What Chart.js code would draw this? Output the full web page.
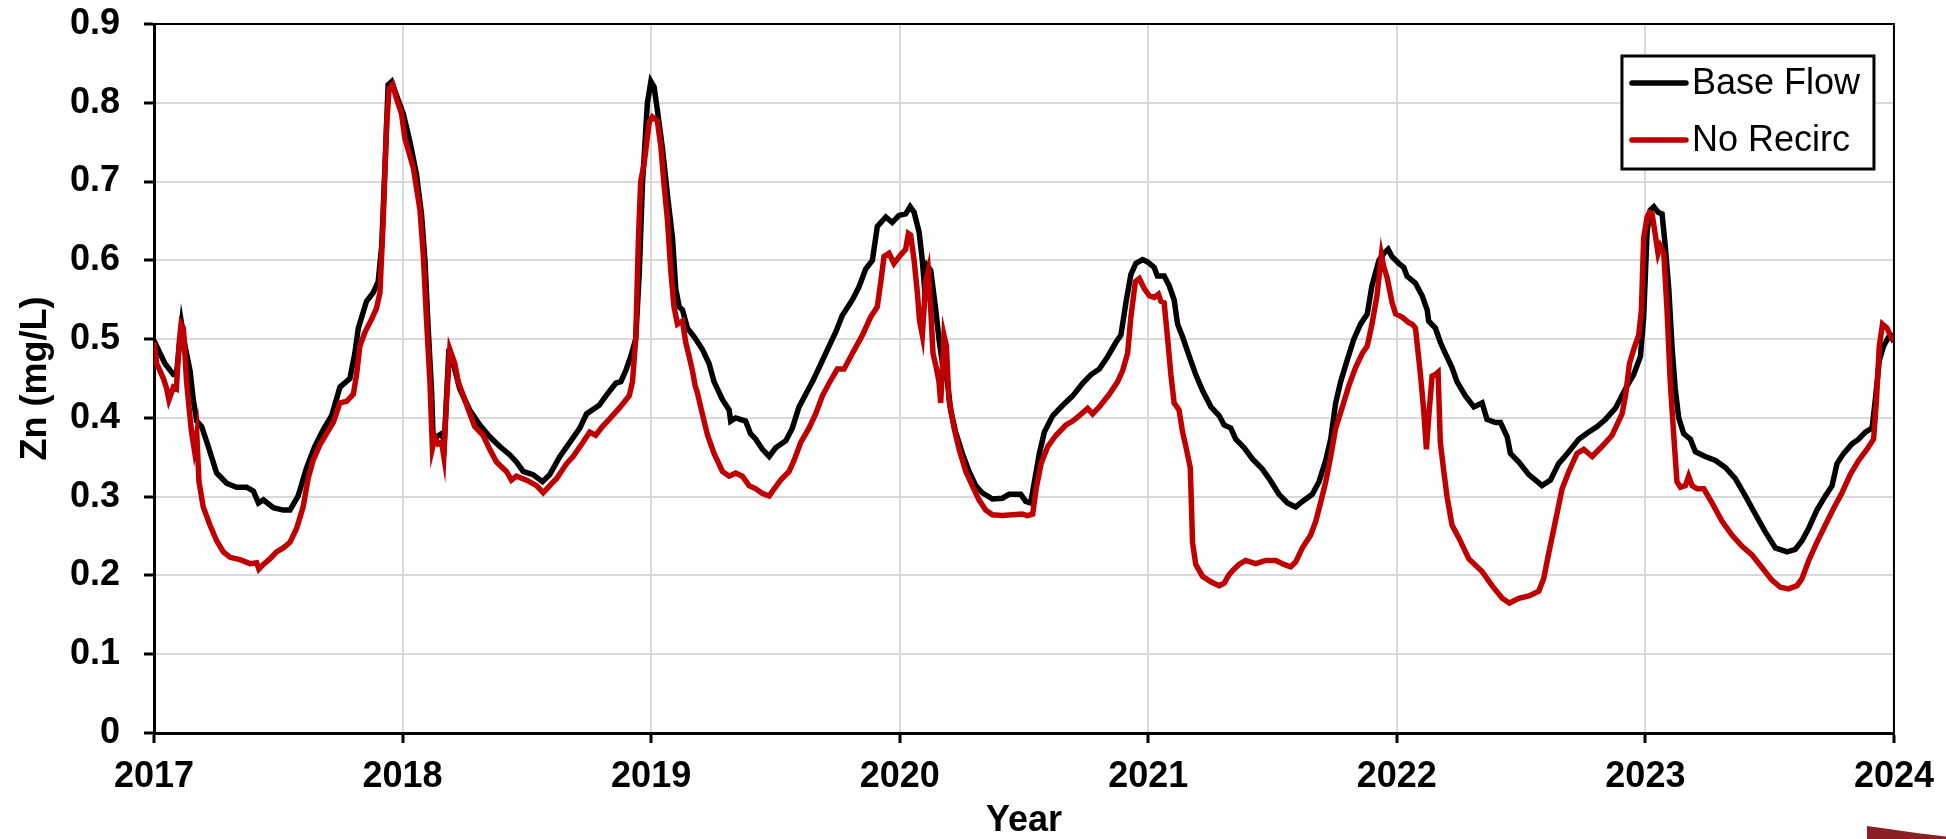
<!DOCTYPE html>
<html>
<head>
<meta charset="utf-8">
<title>Zn (mg/L) - Base Flow vs No Recirc</title>
<script src="https://cdn.jsdelivr.net/npm/chart.js@4.4.1/dist/chart.umd.min.js"></script>
<style>
  html, body { margin: 0; padding: 0; background: #fff; overflow: hidden; }
  #wrap { position: relative; width: 1946px; height: 839px; }
  /* corner of a logo peeking in at the bottom right */
  #logo {
    position: absolute; left: 1867px; top: 826px; width: 79px; height: 13px;
    background: #8c1f26;
    clip-path: polygon(0 0, 30% 25%, 65% 55%, 100% 80%, 100% 100%, 0 100%);
  }
</style>
</head>
<body>
<div id="wrap">
  <canvas id="chart"></canvas>
  <div id="logo"></div>
</div>
<script>
// ---- data ----
const baseYears = [
  2017.000, 2017.024, 2017.044, 2017.078, 2017.090, 2017.111, 2017.125, 2017.145, 2017.158, 2017.172,
  2017.192, 2017.218, 2017.252, 2017.292, 2017.332, 2017.373, 2017.400, 2017.420, 2017.440, 2017.480,
  2017.520, 2017.547, 2017.580, 2017.614, 2017.647, 2017.681, 2017.715, 2017.748, 2017.788, 2017.808,
  2017.822, 2017.855, 2017.882, 2017.902, 2017.916, 2017.929, 2017.942, 2017.956, 2017.976, 2018.003,
  2018.030, 2018.056, 2018.076, 2018.090, 2018.103, 2018.117, 2018.123, 2018.137, 2018.157, 2018.168,
  2018.185, 2018.204, 2018.230, 2018.270, 2018.311, 2018.351, 2018.390, 2018.432, 2018.458, 2018.485,
  2018.525, 2018.563, 2018.592, 2018.633, 2018.673, 2018.713, 2018.740, 2018.791, 2018.818, 2018.858,
  2018.878, 2018.898, 2018.918, 2018.938, 2018.952, 2018.965, 2018.985, 2018.999, 2019.012, 2019.025,
  2019.046, 2019.066, 2019.086, 2019.099, 2019.113, 2019.126, 2019.146, 2019.173, 2019.206, 2019.233,
  2019.253, 2019.287, 2019.314, 2019.320, 2019.340, 2019.380, 2019.400, 2019.421, 2019.448, 2019.475,
  2019.501, 2019.542, 2019.568, 2019.595, 2019.622, 2019.649, 2019.676, 2019.716, 2019.743, 2019.769,
  2019.810, 2019.836, 2019.863, 2019.890, 2019.910, 2019.944, 2019.970, 2019.997, 2020.024, 2020.042,
  2020.058, 2020.078, 2020.091, 2020.098, 2020.111, 2020.125, 2020.145, 2020.158, 2020.172, 2020.192,
  2020.205, 2020.225, 2020.252, 2020.279, 2020.306, 2020.332, 2020.373, 2020.413, 2020.440, 2020.487,
  2020.507, 2020.527, 2020.542, 2020.562, 2020.582, 2020.616, 2020.656, 2020.696, 2020.736, 2020.770,
  2020.803, 2020.837, 2020.870, 2020.890, 2020.910, 2020.930, 2020.950, 2020.977, 2020.997, 2021.024,
  2021.037, 2021.064, 2021.084, 2021.104, 2021.118, 2021.138, 2021.165, 2021.191, 2021.218, 2021.252,
  2021.285, 2021.305, 2021.332, 2021.352, 2021.386, 2021.419, 2021.459, 2021.486, 2021.526, 2021.560,
  2021.593, 2021.620, 2021.660, 2021.687, 2021.714, 2021.734, 2021.754, 2021.774, 2021.800, 2021.827,
  2021.854, 2021.881, 2021.900, 2021.928, 2021.948, 2021.965, 2021.980, 2022.008, 2022.028, 2022.041,
  2022.075, 2022.102, 2022.122, 2022.128, 2022.155, 2022.175, 2022.195, 2022.222, 2022.242, 2022.276,
  2022.310, 2022.343, 2022.363, 2022.397, 2022.417, 2022.444, 2022.457, 2022.491, 2022.531, 2022.558,
  2022.584, 2022.618, 2022.651, 2022.692, 2022.732, 2022.772, 2022.806, 2022.839, 2022.879, 2022.920,
  2022.953, 2022.980, 2022.993, 2023.007, 2023.020, 2023.034, 2023.051, 2023.067, 2023.080, 2023.094,
  2023.107, 2023.120, 2023.134, 2023.154, 2023.181, 2023.201, 2023.241, 2023.282, 2023.322, 2023.362,
  2023.402, 2023.442, 2023.483, 2023.523, 2023.570, 2023.603, 2023.630, 2023.657, 2023.690, 2023.724,
  2023.751, 2023.771, 2023.798, 2023.831, 2023.858, 2023.885, 2023.912, 2023.925, 2023.941, 2023.958,
  2023.979, 2024.000
];
const baseZn = [
  0.498, 0.482, 0.469, 0.455, 0.455, 0.519, 0.491, 0.460, 0.423, 0.396,
  0.389, 0.364, 0.330, 0.317, 0.312, 0.312, 0.307, 0.292, 0.296, 0.286,
  0.283, 0.283, 0.301, 0.337, 0.364, 0.385, 0.403, 0.439, 0.450, 0.482,
  0.514, 0.548, 0.559, 0.573, 0.618, 0.718, 0.823, 0.827, 0.809, 0.786,
  0.750, 0.709, 0.659, 0.600, 0.514, 0.432, 0.373, 0.376, 0.380, 0.370,
  0.478, 0.469, 0.437, 0.410, 0.391, 0.376, 0.364, 0.353, 0.344, 0.332,
  0.328, 0.319, 0.328, 0.351, 0.369, 0.387, 0.405, 0.416, 0.428, 0.444,
  0.446, 0.460, 0.478, 0.500, 0.582, 0.696, 0.800, 0.827, 0.820, 0.791,
  0.741, 0.682, 0.628, 0.564, 0.541, 0.537, 0.514, 0.503, 0.487, 0.469,
  0.446, 0.423, 0.410, 0.396, 0.400, 0.396, 0.380, 0.373, 0.360, 0.351,
  0.362, 0.371, 0.387, 0.414, 0.430, 0.446, 0.464, 0.491, 0.509, 0.530,
  0.550, 0.566, 0.589, 0.600, 0.643, 0.655, 0.648, 0.657, 0.659, 0.668,
  0.661, 0.636, 0.600, 0.573, 0.593, 0.587, 0.537, 0.500, 0.469, 0.446,
  0.410, 0.382, 0.355, 0.332, 0.314, 0.305, 0.297, 0.298, 0.303, 0.303,
  0.294, 0.292, 0.319, 0.355, 0.382, 0.403, 0.416, 0.428, 0.444, 0.455,
  0.462, 0.478, 0.496, 0.505, 0.546, 0.582, 0.596, 0.601, 0.598, 0.591,
  0.580, 0.580, 0.568, 0.550, 0.519, 0.503, 0.478, 0.455, 0.435, 0.414,
  0.403, 0.391, 0.387, 0.373, 0.362, 0.348, 0.335, 0.323, 0.303, 0.292,
  0.287, 0.294, 0.303, 0.319, 0.346, 0.373, 0.419, 0.446, 0.473, 0.500,
  0.519, 0.532, 0.568, 0.600, 0.609, 0.614, 0.605, 0.596, 0.591, 0.580,
  0.571, 0.555, 0.537, 0.523, 0.514, 0.496, 0.482, 0.464, 0.446, 0.428,
  0.414, 0.419, 0.398, 0.394, 0.394, 0.376, 0.355, 0.344, 0.328, 0.321,
  0.314, 0.321, 0.342, 0.357, 0.373, 0.382, 0.389, 0.398, 0.412, 0.437,
  0.455, 0.478, 0.528, 0.637, 0.664, 0.668, 0.661, 0.659, 0.618, 0.564,
  0.491, 0.437, 0.400, 0.380, 0.373, 0.357, 0.351, 0.346, 0.337, 0.323,
  0.301, 0.278, 0.255, 0.235, 0.230, 0.233, 0.244, 0.260, 0.283, 0.301,
  0.314, 0.342, 0.355, 0.367, 0.373, 0.382, 0.387, 0.423, 0.473, 0.491,
  0.503, 0.505
];

const noRecircYears = [
  2017.000, 2017.011, 2017.038, 2017.051, 2017.060, 2017.068, 2017.078, 2017.090, 2017.100, 2017.109,
  2017.118, 2017.131, 2017.142, 2017.151, 2017.162, 2017.172, 2017.181, 2017.198, 2017.225, 2017.252,
  2017.279, 2017.306, 2017.346, 2017.386, 2017.413, 2017.422, 2017.440, 2017.466, 2017.493, 2017.520,
  2017.547, 2017.574, 2017.600, 2017.620, 2017.640, 2017.668, 2017.694, 2017.721, 2017.748, 2017.775,
  2017.802, 2017.815, 2017.828, 2017.849, 2017.875, 2017.895, 2017.909, 2017.922, 2017.936, 2017.946,
  2017.960, 2017.976, 2017.996, 2018.009, 2018.043, 2018.070, 2018.083, 2018.096, 2018.110, 2018.120,
  2018.130, 2018.143, 2018.157, 2018.166, 2018.177, 2018.190, 2018.210, 2018.224, 2018.250, 2018.290,
  2018.324, 2018.351, 2018.378, 2018.418, 2018.438, 2018.458, 2018.499, 2018.539, 2018.566, 2018.592,
  2018.620, 2018.660, 2018.686, 2018.726, 2018.753, 2018.777, 2018.804, 2018.831, 2018.871, 2018.912,
  2018.925, 2018.938, 2018.949, 2018.958, 2018.972, 2018.992, 2019.005, 2019.025, 2019.039, 2019.052,
  2019.066, 2019.079, 2019.092, 2019.106, 2019.126, 2019.139, 2019.153, 2019.166, 2019.177, 2019.186,
  2019.206, 2019.227, 2019.253, 2019.287, 2019.314, 2019.340, 2019.367, 2019.394, 2019.421, 2019.448,
  2019.475, 2019.495, 2019.521, 2019.555, 2019.575, 2019.602, 2019.635, 2019.662, 2019.689, 2019.716,
  2019.749, 2019.776, 2019.810, 2019.850, 2019.883, 2019.910, 2019.924, 2019.937, 2019.957, 2019.977,
  2020.004, 2020.024, 2020.035, 2020.044, 2020.058, 2020.071, 2020.080, 2020.091, 2020.105, 2020.115,
  2020.125, 2020.134, 2020.147, 2020.158, 2020.165, 2020.178, 2020.188, 2020.198, 2020.219, 2020.239,
  2020.266, 2020.292, 2020.319, 2020.346, 2020.373, 2020.413, 2020.453, 2020.493, 2020.513, 2020.535,
  2020.549, 2020.569, 2020.596, 2020.629, 2020.669, 2020.696, 2020.723, 2020.756, 2020.776, 2020.803,
  2020.843, 2020.877, 2020.897, 2020.917, 2020.930, 2020.948, 2020.964, 2020.984, 2021.004, 2021.024,
  2021.041, 2021.051, 2021.064, 2021.078, 2021.091, 2021.104, 2021.124, 2021.138, 2021.151, 2021.169,
  2021.174, 2021.178, 2021.191, 2021.218, 2021.252, 2021.285, 2021.305, 2021.325, 2021.345, 2021.365,
  2021.392, 2021.432, 2021.473, 2021.513, 2021.546, 2021.573, 2021.593, 2021.620, 2021.653, 2021.674,
  2021.693, 2021.714, 2021.734, 2021.754, 2021.781, 2021.807, 2021.834, 2021.861, 2021.881, 2021.900,
  2021.920, 2021.938, 2021.948, 2021.961, 2021.981, 2021.995, 2022.021, 2022.048, 2022.062, 2022.075,
  2022.095, 2022.108, 2022.119, 2022.128, 2022.142, 2022.155, 2022.166, 2022.175, 2022.189, 2022.202,
  2022.222, 2022.249, 2022.290, 2022.343, 2022.383, 2022.424, 2022.453, 2022.491, 2022.531, 2022.571,
  2022.591, 2022.611, 2022.638, 2022.665, 2022.692, 2022.725, 2022.752, 2022.786, 2022.826, 2022.866,
  2022.906, 2022.920, 2022.936, 2022.953, 2022.973, 2022.984, 2022.993, 2023.007, 2023.016, 2023.027,
  2023.040, 2023.051, 2023.060, 2023.074, 2023.087, 2023.100, 2023.114, 2023.127, 2023.141, 2023.161,
  2023.174, 2023.188, 2023.208, 2023.235, 2023.268, 2023.308, 2023.349, 2023.389, 2023.429, 2023.469,
  2023.509, 2023.543, 2023.576, 2023.610, 2023.630, 2023.657, 2023.690, 2023.724, 2023.757, 2023.791,
  2023.824, 2023.858, 2023.891, 2023.918, 2023.929, 2023.941, 2023.954, 2023.972, 2023.985, 2024.000
];
const noRecircZn = [
  0.496, 0.469, 0.450, 0.437, 0.423, 0.430, 0.439, 0.437, 0.491, 0.519,
  0.514, 0.446, 0.410, 0.382, 0.360, 0.380, 0.319, 0.287, 0.264, 0.244,
  0.230, 0.223, 0.220, 0.215, 0.216, 0.208, 0.214, 0.221, 0.230, 0.235,
  0.242, 0.260, 0.287, 0.323, 0.346, 0.366, 0.380, 0.394, 0.419, 0.421,
  0.430, 0.455, 0.491, 0.509, 0.525, 0.539, 0.559, 0.650, 0.773, 0.818,
  0.823, 0.805, 0.786, 0.755, 0.718, 0.664, 0.609, 0.527, 0.446, 0.362,
  0.376, 0.367, 0.369, 0.351, 0.423, 0.487, 0.469, 0.446, 0.423, 0.389,
  0.378, 0.360, 0.344, 0.332, 0.321, 0.326, 0.321, 0.314, 0.305, 0.314,
  0.323, 0.342, 0.351, 0.369, 0.382, 0.378, 0.389, 0.398, 0.412, 0.428,
  0.446, 0.500, 0.628, 0.700, 0.723, 0.775, 0.782, 0.777, 0.745, 0.696,
  0.650, 0.587, 0.541, 0.519, 0.523, 0.496, 0.478, 0.460, 0.441, 0.432,
  0.405, 0.378, 0.355, 0.332, 0.326, 0.330, 0.326, 0.314, 0.310, 0.304,
  0.301, 0.310, 0.321, 0.332, 0.346, 0.369, 0.387, 0.405, 0.428, 0.444,
  0.462, 0.462, 0.482, 0.505, 0.528, 0.541, 0.573, 0.605, 0.609, 0.596,
  0.607, 0.614, 0.634, 0.632, 0.600, 0.559, 0.523, 0.505, 0.573, 0.587,
  0.537, 0.482, 0.464, 0.446, 0.419, 0.505, 0.491, 0.423, 0.387, 0.360,
  0.332, 0.314, 0.296, 0.283, 0.277, 0.276, 0.277, 0.278, 0.276, 0.278,
  0.310, 0.342, 0.364, 0.378, 0.391, 0.396, 0.403, 0.412, 0.405, 0.414,
  0.430, 0.446, 0.460, 0.482, 0.528, 0.573, 0.577, 0.564, 0.555, 0.553,
  0.557, 0.548, 0.546, 0.500, 0.455, 0.419, 0.410, 0.382, 0.364, 0.337,
  0.287, 0.242, 0.214, 0.199, 0.192, 0.187, 0.190, 0.201, 0.208, 0.214,
  0.219, 0.215, 0.219, 0.219, 0.214, 0.211, 0.217, 0.235, 0.251, 0.269,
  0.292, 0.319, 0.351, 0.387, 0.414, 0.441, 0.464, 0.482, 0.491, 0.519,
  0.555, 0.607, 0.591, 0.578, 0.546, 0.532, 0.528, 0.521, 0.519, 0.514,
  0.455, 0.410, 0.360, 0.400, 0.453, 0.455, 0.458, 0.369, 0.332, 0.300,
  0.264, 0.248, 0.221, 0.205, 0.187, 0.171, 0.165, 0.171, 0.174, 0.180,
  0.196, 0.228, 0.269, 0.310, 0.332, 0.355, 0.360, 0.351, 0.364, 0.378,
  0.405, 0.428, 0.469, 0.487, 0.505, 0.537, 0.628, 0.655, 0.661, 0.659,
  0.632, 0.609, 0.618, 0.609, 0.537, 0.446, 0.378, 0.319, 0.312, 0.314,
  0.326, 0.314, 0.310, 0.310, 0.292, 0.269, 0.251, 0.237, 0.226, 0.210,
  0.194, 0.185, 0.183, 0.187, 0.196, 0.219, 0.242, 0.264, 0.285, 0.305,
  0.328, 0.346, 0.360, 0.373, 0.419, 0.491, 0.519, 0.514, 0.505, 0.496
];

const seriesLabels = ['Base Flow', 'No Recirc'];
const seriesColors = ['#000000', '#c00000'];
const yearTicks = [2017, 2018, 2019, 2020, 2021, 2022, 2023, 2024];

// ---- chart ----
const FONT = "'Liberation Sans', Arial, Helvetica, sans-serif";
Chart.defaults.font.family = FONT;
Chart.defaults.color = '#000';

const toPoints = (xs, ys) => xs.map((x, i) => ({ x, y: ys[i] }));

// black box round the plot area (top and right edges)
const plotFrame = {
    id: 'plotFrame',
    afterDatasetsDraw(chart) {
        const { ctx, chartArea: a } = chart;
        ctx.save();
        ctx.strokeStyle = '#000';
        ctx.lineWidth = 2;
        ctx.beginPath();
        ctx.moveTo(a.left, a.top);
        ctx.lineTo(a.right, a.top);
        ctx.lineTo(a.right, a.bottom);
        ctx.stroke();
        ctx.restore();
    }
};

// boxed legend inside the top-right corner of the plot
const boxLegend = {
    id: 'boxLegend',
    afterDraw(chart, args, opts) {
        const { ctx, chartArea: a } = chart;
        const x = a.right - opts.right - opts.width;
        const y = a.top + opts.top;
        ctx.save();
        ctx.fillStyle = '#fff';
        ctx.fillRect(x, y, opts.width, opts.height);
        ctx.strokeStyle = '#000';
        ctx.lineWidth = 3;
        ctx.strokeRect(x, y, opts.width, opts.height);
        ctx.font = `${opts.fontSize}px ${FONT}`;
        ctx.textBaseline = 'middle';
        ctx.textAlign = 'left';
        chart.data.datasets.forEach((ds, i) => {
            const ly = y + opts.firstRow + i * opts.rowGap;
            ctx.strokeStyle = ds.borderColor;
            ctx.lineWidth = ds.borderWidth;
            ctx.lineCap = 'round';
            ctx.beginPath();
            ctx.moveTo(x + 10, ly);
            ctx.lineTo(x + 64, ly);
            ctx.stroke();
            ctx.fillStyle = '#000';
            ctx.fillText(ds.label, x + 70, ly + 1);
        });
        ctx.restore();
    }
};

const tickFont = { size: 36, weight: 'bold' };

new Chart(document.getElementById('chart'), {
    type: 'line',
    data: {
        datasets: [
            {
                label: seriesLabels[0],
                data: toPoints(baseYears, baseZn),
                borderColor: seriesColors[0],
                borderWidth: 5.5,
                pointRadius: 0,
                tension: 0,
                order: 2,
            },
            {
                label: seriesLabels[1],
                data: toPoints(noRecircYears, noRecircZn),
                borderColor: seriesColors[1],
                borderWidth: 5.5,
                pointRadius: 0,
                tension: 0,
                order: 1,
            },
        ],
    },
    options: {
        responsive: true,
        maintainAspectRatio: false,
        animation: false,
        layout: { padding: { top: 24, right: 51, left: 0, bottom: 0 } },
        scales: {
            x: {
                type: 'linear',
                min: 2017,
                max: 2024,
                afterBuildTicks: axis => { axis.ticks = yearTicks.map(v => ({ value: v })); },
                afterFit: axis => { axis.height = 106; },
                ticks: {
                    font: tickFont,
                    color: '#000',
                    padding: 12,
                    maxRotation: 0,
                    autoSkip: false,
                    callback: v => String(v),
                },
                grid: {
                    color: '#d9d9d9',
                    lineWidth: 2,
                    tickLength: 10,
                    tickColor: '#000',
                    tickWidth: 3,
                },
                border: { color: '#000', width: 3 },
                title: {
                    display: true,
                    text: 'Year',
                    color: '#000',
                    font: { size: 36, weight: 'bold', lineHeight: 1 },
                    padding: { top: 0, bottom: 0 },
                },
            },
            y: {
                min: 0,
                max: 0.9,
                afterFit: axis => {
                    axis.width = 154;
                    axis.paddingTop = 0;     // let layout padding set the plot top
                    axis.paddingBottom = 0;
                },
                ticks: {
                    stepSize: 0.1,
                    font: tickFont,
                    color: '#000',
                    padding: 24,
                    callback: v => (v === 0 ? '0' : v.toFixed(1)),
                },
                grid: {
                    color: '#d9d9d9',
                    lineWidth: 2,
                    tickLength: 10,
                    tickColor: '#000',
                    tickWidth: 3,
                },
                border: { color: '#000', width: 3 },
                title: {
                    display: true,
                    text: 'Zn (mg/L)',
                    color: '#000',
                    font: { size: 36, weight: 'bold' },
                    padding: { top: 14, bottom: 0 },
                },
            },
        },
        plugins: {
            legend: { display: false },
            tooltip: { enabled: false },
            boxLegend: { right: 20, top: 32, width: 252, height: 113, firstRow: 27, rowGap: 57, fontSize: 36 },
        },
    },
    plugins: [plotFrame, boxLegend],
});
</script>
</body>
</html>
